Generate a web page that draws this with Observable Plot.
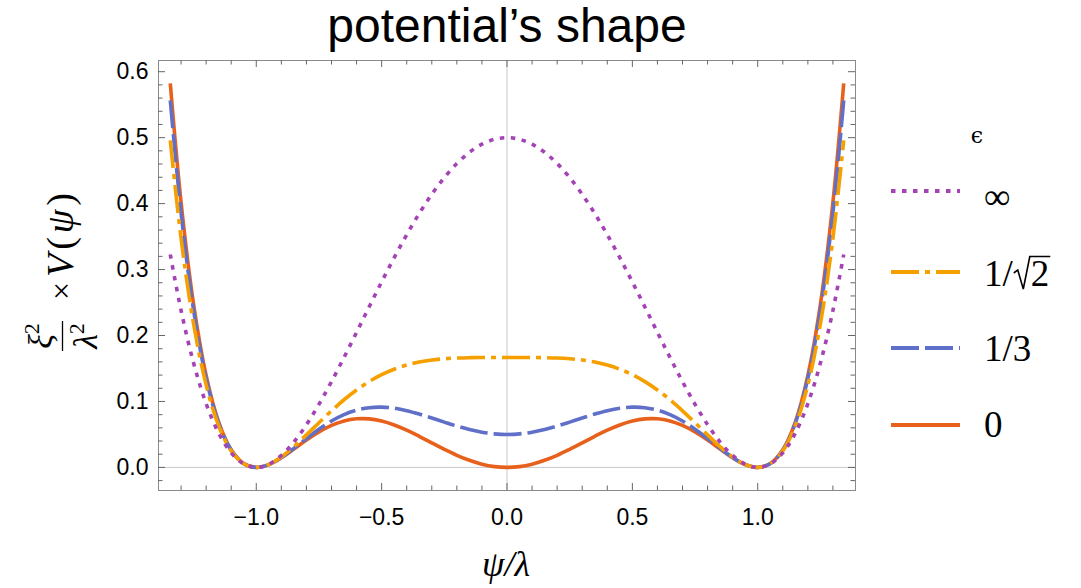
<!DOCTYPE html>
<html><head><meta charset="utf-8">
<script src="https://cdn.jsdelivr.net/npm/d3@7"></script>
<script src="https://cdn.jsdelivr.net/npm/@observablehq/plot@0.6"></script>
<style>body{margin:0;background:#fff}</style>
</head><body><div id="chart"></div>
<script>
const psi = [-1.343,-1.3,-1.25,-1.2,-1.15,-1.1,-1.05,-1,-0.95,-0.9,-0.85,-0.8,-0.75,-0.7,-0.65,-0.6,-0.55,-0.5,-0.45,-0.4,-0.35,-0.3,-0.25,-0.2,-0.15,-0.1,-0.05,0,0.05,0.1,0.15,0.2,0.25,0.3,0.35,0.4,0.45,0.5,0.55,0.6,0.65,0.7,0.75,0.8,0.85,0.9,0.95,1,1.05,1.1,1.15,1.2,1.25,1.3,1.343];
const vInf = [0.3229,0.2381,0.1582,0.0968,0.0520,0.0221,0.0053,0,0.0048,0.0181,0.0385,0.0648,0.0957,0.1301,0.1668,0.2048,0.2433,0.2813,0.3180,0.3528,0.3850,0.4141,0.4395,0.4608,0.4778,0.4901,0.4975,0.5,0.4975,0.4901,0.4778,0.4608,0.4395,0.4141,0.3850,0.3528,0.3180,0.2813,0.2433,0.2048,0.1668,0.1301,0.0957,0.0648,0.0385,0.0181,0.0048,0,0.0053,0.0221,0.0520,0.0968,0.1582,0.2381,0.3229];
const vSqrt2 = [0.4959,0.3476,0.2175,0.1252,0.0632,0.0251,0.0056,0,0.0044,0.0158,0.0314,0.0493,0.0678,0.0858,0.1026,0.1174,0.1301,0.1406,0.1489,0.1552,0.1598,0.1629,0.1648,0.1659,0.1664,0.1666,0.1667,0.1667,0.1667,0.1666,0.1664,0.1659,0.1648,0.1629,0.1598,0.1552,0.1489,0.1406,0.1301,0.1174,0.1026,0.0858,0.0678,0.0493,0.0314,0.0158,0.0044,0,0.0056,0.0251,0.0632,0.1252,0.2175,0.3476,0.4959];
const vThird = [0.5565,0.3859,0.2383,0.1351,0.0671,0.0262,0.0057,0,0.0043,0.0150,0.0289,0.0438,0.0580,0.0704,0.0801,0.0868,0.0906,0.0914,0.0898,0.0861,0.0809,0.0749,0.0687,0.0627,0.0575,0.0534,0.0509,0.0500,0.0509,0.0534,0.0575,0.0627,0.0687,0.0749,0.0809,0.0861,0.0898,0.0914,0.0906,0.0868,0.0801,0.0704,0.0580,0.0438,0.0289,0.0150,0.0043,0,0.0057,0.0262,0.0671,0.1351,0.2383,0.3859,0.5565];
const vZero = [0.5824,0.4023,0.2472,0.1394,0.0688,0.0267,0.0058,0,0.0043,0.0146,0.0278,0.0415,0.0538,0.0637,0.0705,0.0737,0.0736,0.0703,0.0644,0.0565,0.0472,0.0373,0.0275,0.0184,0.0108,0.0049,0.0012,0,0.0012,0.0049,0.0108,0.0184,0.0275,0.0373,0.0472,0.0565,0.0644,0.0703,0.0736,0.0737,0.0705,0.0637,0.0538,0.0415,0.0278,0.0146,0.0043,0,0.0058,0.0267,0.0688,0.1394,0.2472,0.4023,0.5824];

const xMajor = [-1,-0.5,0,0.5,1];
const xMinor = [-1.3,-1.2,-1.1,-0.9,-0.8,-0.7,-0.6,-0.4,-0.3,-0.2,-0.1,0.1,0.2,0.3,0.4,0.6,0.7,0.8,0.9,1.1,1.2,1.3];
const yMajor = [0,0.1,0.2,0.3,0.4,0.5,0.6];
const yMinor = [-0.02,0.02,0.04,0.06,0.08,0.12,0.14,0.16,0.18,0.22,0.24,0.26,0.28,0.32,0.34,0.36,0.38,0.42,0.44,0.46,0.48,0.52,0.54,0.56,0.58];
const titleText = "potential’s shape";
const legendTitle = "ϵ";

const series = [
  {key:"0", values:vZero, color:"#e8611c", dash:null},
  {key:"1/3", values:vThird, color:"#6070c8", dash:"28,6"},
  {key:"1/√2", values:vSqrt2, color:"#f5a000", dash:"28,6,5,6"},
  {key:"∞", values:vInf, color:"#a443b6", dash:"4.5,6.5"}
];

const W = 1081, H = 588, mL = 158, mR = 226, mT = 60, mB = 98;
const pw = W - mL - mR, ph = H - mT - mB;
const tickCol = "#666";

const lineMarks = series.map(s => Plot.line(psi.map((x,i)=>({x, y:s.values[i]})), {
  x:"x", y:"y", stroke:s.color, strokeWidth:3.6, strokeDasharray:s.dash, curve:"catmull-rom", strokeLinecap:"butt"
}));

const fmt = d3.format(".1f");
const chart = Plot.plot({
  width: W, height: H,
  marginLeft: mL, marginRight: mR, marginTop: mT, marginBottom: mB,
  style: {fontFamily: "'Liberation Sans', Arial, sans-serif", background: "#fff", color: "#000"},
  x: {domain: [-1.39, 1.39]},
  y: {domain: [-0.035, 0.617]},
  marks: [
    Plot.ruleX([0], {stroke: "#c8c8c8", strokeWidth: 1}),
    Plot.ruleY([0], {stroke: "#c8c8c8", strokeWidth: 1}),
    ...lineMarks,
    Plot.frame({stroke: "#8a8a8a", strokeWidth: 1}),
    Plot.ruleX(xMajor, {stroke: tickCol, insetTop: ph - 7}),
    Plot.ruleX(xMinor, {stroke: tickCol, insetTop: ph - 4.5}),
    Plot.ruleX(xMajor, {stroke: tickCol, insetBottom: ph - 7}),
    Plot.ruleX(xMinor, {stroke: tickCol, insetBottom: ph - 4.5}),
    Plot.ruleY(yMajor, {stroke: tickCol, insetRight: pw - 7}),
    Plot.ruleY(yMinor, {stroke: tickCol, insetRight: pw - 4.5}),
    Plot.ruleY(yMajor, {stroke: tickCol, insetLeft: pw - 7}),
    Plot.ruleY(yMinor, {stroke: tickCol, insetLeft: pw - 4.5}),
    Plot.axisX(xMajor, {anchor: "bottom", tickSize: 0, tickPadding: 18, tickFormat: fmt, fontSize: 23, label: null}),
    Plot.axisY(yMajor, {anchor: "left", tickSize: 0, tickPadding: 10, tickFormat: fmt, fontSize: 23, label: null}),
    Plot.text([titleText], {frameAnchor: "top", dy: -34, fontSize: 48, lineAnchor: "middle", fill: "#000"})
  ]
});
document.getElementById("chart").appendChild(chart);

const svg = d3.select(chart);
const serif = "'Liberation Serif', 'DejaVu Serif', serif";

// x label
svg.append("text").attr("x", 506).attr("y", 576).attr("text-anchor", "middle")
  .attr("font-family", serif).attr("font-size", 36).attr("font-style", "italic").text("ψ/λ");

// y label (rotated)
const yl = svg.append("g").attr("transform", "translate(62.5,336) rotate(-90)")
  .attr("font-family", serif).attr("fill", "#000");
yl.append("text").attr("x", 0).attr("y", -11).attr("text-anchor", "middle").attr("font-size", 34)
  .html('<tspan font-style="italic">ξ</tspan><tspan font-size="22" dy="-13">2</tspan>');
yl.append("line").attr("x1", -15).attr("x2", 15).attr("y1", 0).attr("y2", 0).attr("stroke", "#000").attr("stroke-width", 1.3);
yl.append("text").attr("x", 0).attr("y", 34).attr("text-anchor", "middle").attr("font-size", 34)
  .html('<tspan font-style="italic">λ</tspan><tspan font-size="22" dy="-13">2</tspan>');
yl.append("text").attr("x", 36).attr("y", 9).attr("text-anchor", "start").attr("font-size", 32).text("×");
yl.append("text").attr("x", 59).attr("y", 10).attr("text-anchor", "start").attr("font-size", 38)
  .attr("textLength", 84).attr("lengthAdjust", "spacing")
  .html('<tspan font-style="italic">V</tspan>(<tspan font-style="italic">ψ</tspan>)');

// legend
svg.append("text").attr("x", 977).attr("y", 143).attr("text-anchor", "middle")
  .attr("font-family", "'DejaVu Serif', serif").attr("font-size", 22).text(legendTitle);
const legY = {"∞":191, "1/√2":272, "1/3":348, "0":425};
for (const s of series) {
  const y = legY[s.key];
  svg.append("line").attr("x1", 891).attr("x2", 960).attr("y1", y).attr("y2", y)
    .attr("stroke", s.color).attr("stroke-width", 4).attr("stroke-dasharray", s.dash);
}
const lab = (txt, x, y) => svg.append("text").attr("x", x).attr("y", y).attr("text-anchor", "start")
  .attr("font-family", serif).attr("font-size", 37).text(txt);
lab("∞", 984, 209);
lab("0", 984, 437);
lab("1/3", 984, 361);
const t1 = lab("1/", 984, 286);
const x0 = 984 + t1.node().getComputedTextLength() + 1;
const t2 = lab("2", x0 + 17, 286);
const w2 = t2.node().getComputedTextLength();
svg.append("path")
  .attr("d", `M${x0},${273} L${x0+4},${270} L${x0+9.5},${289} L${x0+16},${256.5} L${x0+18+w2},${256.5}`)
  .attr("fill", "none").attr("stroke", "#000").attr("stroke-width", 1.6).attr("stroke-linejoin", "miter");
</script>
</body></html>
